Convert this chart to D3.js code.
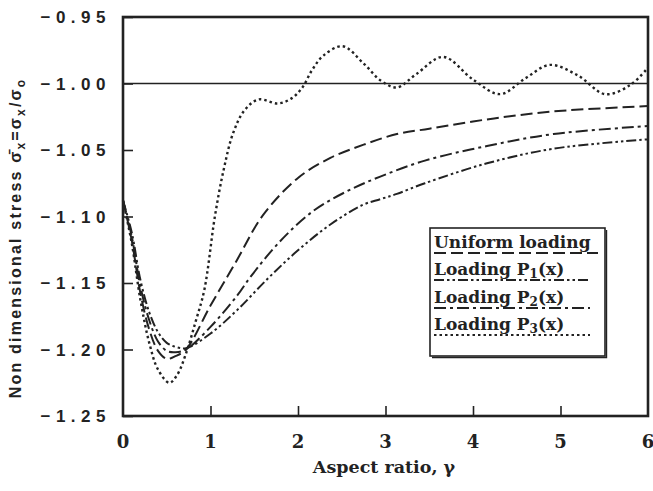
<!DOCTYPE html>
<html><head><meta charset="utf-8">
<script src="https://cdn.jsdelivr.net/npm/d3@7"></script>
<style>
html,body{margin:0;padding:0;background:#fff;}
svg{display:block;}
</style></head>
<body>
<svg id="chart" width="653" height="491"></svg>
<script>
// ---- data ----
const seriesNames = ["Uniform loading", "Loading P1(x)", "Loading P2(x)", "Loading P3(x)"];
const xTicks = [0, 1, 2, 3, 4, 5, 6];
const yTicks = [-0.95, -1.00, -1.05, -1.10, -1.15, -1.20, -1.25];
const yTickLabels = ["\u22120.95", "\u22121.00", "\u22121.05", "\u22121.10", "\u22121.15", "\u22121.20", "\u22121.25"];
const referenceLevel = -1.00;

const uniformX = [0, 0.1, 0.2, 0.3, 0.4, 0.5, 0.6, 0.72, 1.0, 1.3, 1.6, 2.0, 2.37, 2.75, 3.13, 3.5, 4.16, 4.92, 6.0];
const uniformY = [-1.088, -1.118, -1.158, -1.185, -1.201, -1.207, -1.205, -1.200, -1.167, -1.133, -1.099, -1.071, -1.056, -1.046, -1.038, -1.034, -1.027, -1.021, -1.017];

const p1X = [0, 0.1, 0.2, 0.3, 0.4, 0.5, 0.6, 0.72, 1.0, 1.31, 1.65, 1.99, 2.37, 2.75, 2.94, 3.13, 3.45, 4.16, 4.92, 6.0];
const p1Y = [-1.088, -1.112, -1.148, -1.172, -1.187, -1.195, -1.198, -1.199, -1.188, -1.170, -1.147, -1.126, -1.106, -1.091, -1.087, -1.083, -1.075, -1.060, -1.049, -1.042];

const p2X = [0, 0.1, 0.2, 0.3, 0.4, 0.5, 0.6, 0.72, 1.0, 1.31, 1.45, 1.79, 2.17, 2.56, 2.94, 3.45, 4.16, 4.92, 6.0];
const p2Y = [-1.088, -1.115, -1.153, -1.178, -1.194, -1.201, -1.202, -1.200, -1.183, -1.159, -1.146, -1.119, -1.096, -1.081, -1.070, -1.058, -1.047, -1.038, -1.032];

const p3X = [0, 0.1, 0.2, 0.3, 0.4, 0.53, 0.62, 0.72, 0.83, 0.93, 1.05, 1.15, 1.26, 1.39, 1.55, 1.77, 1.93, 2.05, 2.16, 2.29, 2.51, 2.75, 2.95, 3.13, 3.35, 3.66, 4.0, 4.31, 4.6, 4.88, 5.2, 5.51, 5.8, 6.0];
const p3Y = [-1.088, -1.12, -1.163, -1.195, -1.215, -1.225, -1.219, -1.203, -1.179, -1.155, -1.100, -1.065, -1.037, -1.020, -1.012, -1.015, -1.011, -1.003, -0.990, -0.979, -0.972, -0.985, -0.998, -1.003, -0.993, -0.980, -0.997, -1.008, -0.996, -0.986, -0.994, -1.008, -1.001, -0.988];

// ---- layout ----
const plotLeft = 123, plotRight = 648, plotTop = 17, plotBottom = 416;
const svg = d3.select("#chart");
const x = d3.scaleLinear().domain([0, 6]).range([plotLeft, plotRight]);
const y = d3.scaleLinear().domain([-1.25, -0.95]).range([plotBottom, plotTop]);

const series = [
  {name: seriesNames[0], xs: uniformX, ys: uniformY, dash: "12,5", width: 2.0},
  {name: seriesNames[1], xs: p1X, ys: p1Y, dash: "10,3,2.5,3,2.5,3", width: 2.0},
  {name: seriesNames[2], xs: p2X, ys: p2Y, dash: "12,4,3,4", width: 2.0},
  {name: seriesNames[3], xs: p3X, ys: p3Y, dash: "2.5,3", width: 2.4}
];

// axes (inward ticks)
const yAxis = d3.axisRight(y).tickValues(yTicks).tickSize(10).tickFormat("");
svg.append("g").attr("transform", `translate(${plotLeft},0)`).call(yAxis)
  .call(g => g.select(".domain").remove())
  .call(g => g.selectAll("line").attr("stroke", "#222").attr("stroke-width", 1.6));
const xAxis = d3.axisTop(x).tickValues(xTicks.slice(1, -1)).tickSize(10).tickFormat("");
svg.append("g").attr("transform", `translate(0,${plotBottom})`).call(xAxis)
  .call(g => g.select(".domain").remove())
  .call(g => g.selectAll("line").attr("stroke", "#222").attr("stroke-width", 1.6));

// y tick labels
svg.append("g").selectAll("text").data(yTicks).join("text")
  .attr("x", 111).attr("y", d => y(d)).attr("dy", "0.36em")
  .attr("text-anchor", "end")
  .attr("font-family", "Liberation Sans, Arial, sans-serif")
  .attr("font-weight", "bold").attr("font-size", 17)
  .attr("letter-spacing", "5.5px")
  .attr("fill", "#222")
  .text((d, i) => yTickLabels[i]);

// x tick labels
svg.append("g").selectAll("text").data(xTicks).join("text")
  .attr("x", d => x(d)).attr("y", 448)
  .attr("text-anchor", "middle")
  .attr("font-family", "DejaVu Serif, serif")
  .attr("font-weight", "bold").attr("font-size", 18)
  .attr("fill", "#222")
  .text(d => d);

// axis titles
svg.append("text").attr("x", 384).attr("y", 473).attr("text-anchor", "middle")
  .attr("font-family", "DejaVu Serif, serif").attr("font-weight", "bold").attr("font-size", 17.5)
  .attr("fill", "#222")
  .text("Aspect ratio, \u03b3");

const yt = svg.append("text").attr("transform", "translate(21,238) rotate(-90)")
  .attr("text-anchor", "middle")
  .attr("font-family", "Liberation Sans, Arial, sans-serif").attr("font-weight", "bold").attr("font-size", 16)
  .attr("letter-spacing", "2.2px")
  .attr("fill", "#222");
yt.append("tspan").text("Non dimensional stress \u03c3\u0304");
yt.append("tspan").attr("font-size", 12).attr("dy", 4).text("x");
yt.append("tspan").attr("dy", -4).text("=\u03c3");
yt.append("tspan").attr("font-size", 12).attr("dy", 4).text("x");
yt.append("tspan").attr("dy", -4).text("/\u03c3");
yt.append("tspan").attr("font-size", 12).attr("dy", 4).text("o");

// reference line
svg.append("line").attr("x1", x(0)).attr("x2", x(6))
  .attr("y1", y(referenceLevel)).attr("y2", y(referenceLevel))
  .attr("stroke", "#222").attr("stroke-width", 1.4);

// curves
const line = d3.line().curve(d3.curveCatmullRom.alpha(0.5)).x(d => x(d[0])).y(d => y(d[1]));
svg.append("g").selectAll("path").data(series).join("path")
  .attr("d", s => line(s.xs.map((v, i) => [v, s.ys[i]])))
  .attr("fill", "none").attr("stroke", "#222")
  .attr("stroke-width", s => s.width)
  .attr("stroke-dasharray", s => s.dash);

// frame
svg.append("rect").attr("x", plotLeft).attr("y", plotTop).attr("width", plotRight - plotLeft).attr("height", plotBottom - plotTop)
  .attr("fill", "none").attr("stroke", "#222").attr("stroke-width", 2.6);

// legend
const lg = svg.append("g");
lg.append("rect").attr("x", 430).attr("y", 228).attr("width", 175).attr("height", 128)
  .attr("fill", "#fff").attr("stroke", "#222").attr("stroke-width", 1.6);
lg.append("path").attr("d", "M432,357.5 H606.5 V230").attr("fill", "none").attr("stroke", "#222").attr("stroke-width", 1.4);
const rowY = [248, 275, 303, 330];
const underlineEnd = [598, 590, 590, 590];
series.forEach((s, i) => {
  lg.append("text").attr("x", 434).attr("y", rowY[i])
    .attr("font-family", "DejaVu Serif, serif").attr("font-weight", "bold").attr("font-size", 17)
    .attr("fill", "#222")
    .call(t => {
      if (i === 0) { t.text(s.name); return; }
      t.append("tspan").text("Loading P");
      t.append("tspan").attr("font-size", 12).attr("dy", 3).text(String(i));
      t.append("tspan").attr("dy", -3).text("(x)");
    });
  lg.append("line").attr("x1", 434).attr("x2", underlineEnd[i])
    .attr("y1", rowY[i] + 5).attr("y2", rowY[i] + 5)
    .attr("stroke", "#222").attr("stroke-width", 1.8).attr("stroke-dasharray", s.dash);
});
</script>
</body></html>
